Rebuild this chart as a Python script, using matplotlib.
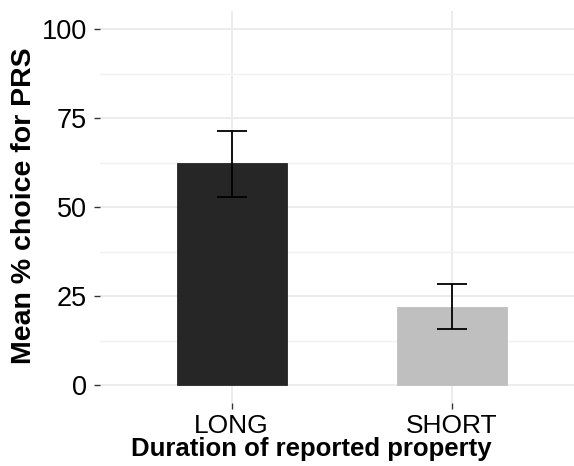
import matplotlib
matplotlib.use("Agg")
import matplotlib.pyplot as plt
from matplotlib.ticker import MultipleLocator

plt.rcParams['font.family'] = ['Liberation Sans', 'DejaVu Sans']

categories = ["LONG", "SHORT"]
means = [62.3, 21.9]
err_low = [52.9, 15.6]
err_high = [71.4, 28.5]
bar_colors = ["#262626", "#bfbfbf"]
yticks = [0, 25, 50, 75, 100]

fig = plt.figure(figsize=(5.74, 4.66), dpi=100)
# panel placed like the ggplot output (right side runs off the image)
ax = fig.add_axes([99.7 / 574, 1 - 402.8 / 466, 1 - 99.7 / 574, (402.8 - 11.2) / 466])

x = list(range(1, len(categories) + 1))
ax.bar(x, means, width=0.5, color=bar_colors, edgecolor=bar_colors, linewidth=0.6, zorder=2)

yerr = [[m - lo for m, lo in zip(means, err_low)],
        [hi - m for m, hi in zip(means, err_high)]]
ax.errorbar(x, means, yerr=yerr, fmt="none", ecolor="black", elinewidth=1.3,
            capsize=11, capthick=1.3, zorder=3)

ax.set_xlim(0.4, 0.4 + (574 - 99.7) / 220)
ax.set_ylim(-5, 105)
ax.set_xticks(x)
ax.set_xticklabels(categories)
ax.set_yticks(yticks)
ax.yaxis.set_minor_locator(MultipleLocator(12.5))

ax.grid(which="major", color="#ebebeb", linewidth=1.3, zorder=0)
ax.grid(which="minor", axis="y", color="#f2f2f2", linewidth=1.0, zorder=0)
ax.set_axisbelow(True)
for s in ax.spines.values():
    s.set_visible(False)

ax.tick_params(axis="both", which="major", length=4, width=1.0, color="#333333",
               labelcolor="black", pad=4)
ax.tick_params(axis="x", labelsize=19)
ax.tick_params(axis="y", labelsize=19.5, pad=5)
ax.tick_params(axis="y", which="minor", length=0)

fig.text(311 / 574, 1 - 456 / 466, "Duration of reported property", ha="center", va="baseline",
         fontsize=18.5, fontweight="bold")
fig.text(24 / 574, 1 - 206 / 466, "Mean % choice for PRS", ha="center", va="center",
         rotation=90, fontsize=20.5, fontweight="bold")

fig.savefig("out.png", dpi=100)
